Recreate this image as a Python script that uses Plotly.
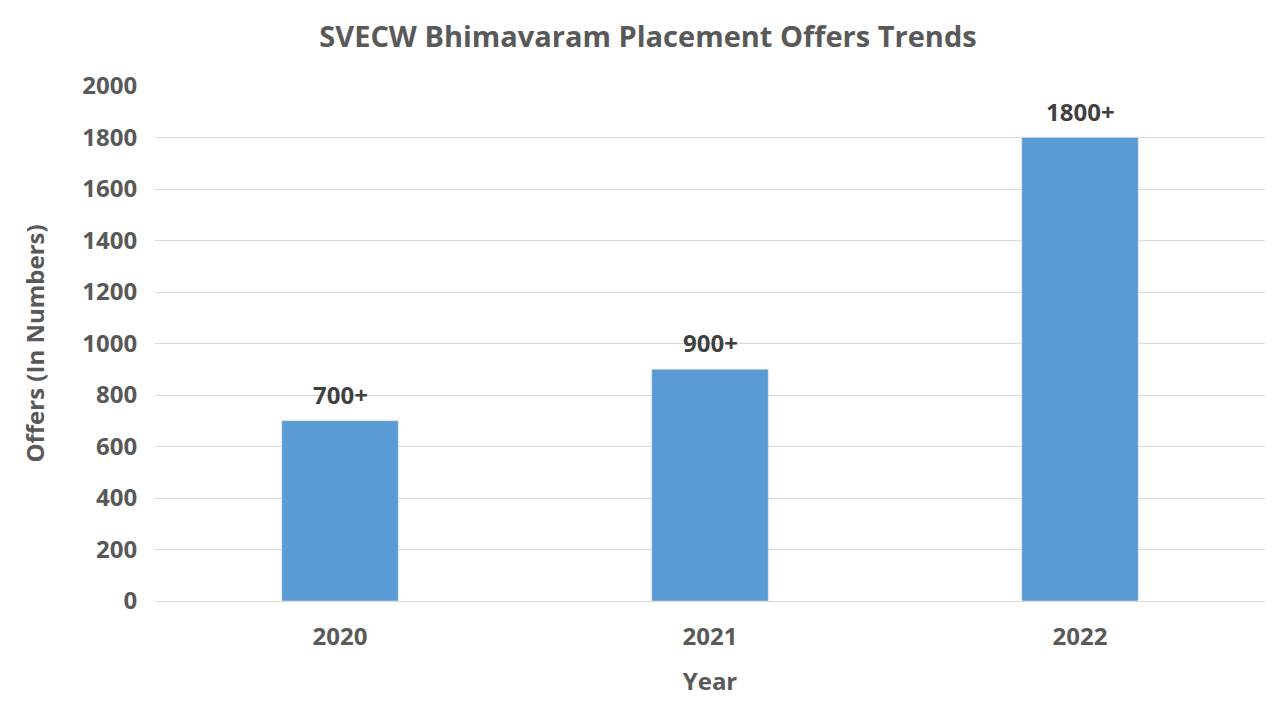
import plotly.graph_objects as go

years = ["2020", "2021", "2022"]
offers = [700, 900, 1800]
labels = ["700+", "900+", "1800+"]

fig = go.Figure(go.Bar(
    x=years, y=offers, marker_color="#5b9bd5", width=0.315,
))
for i, (v, lb) in enumerate(zip(offers, labels)):
    fig.add_annotation(x=i, y=v, text=f"<b>{lb}</b>", showarrow=False, yanchor="bottom",
                       yshift=8, font=dict(size=24, color="#404040", family="Open Sans"))
font = dict(family="Open Sans", color="#595959")
fig.update_layout(
    width=1280, height=720, paper_bgcolor="white", plot_bgcolor="white",
    margin=dict(l=147, r=23, t=78, b=127),
    showlegend=False, font=font,
    title=dict(text="<b>SVECW Bhimavaram Placement Offers Trends</b>", x=0.5, xanchor="center",
               y=0.96, yanchor="middle", font=dict(size=29, family="Open Sans", color="#595959")),
    xaxis=dict(type="category",
               title=dict(text="<b>Year</b>", font=dict(size=24), standoff=22),
               tickfont=dict(size=24), showline=True, linecolor="#d9d9d9", ticks="outside",
               ticklen=14, tickcolor="rgba(0,0,0,0)",
               tickprefix="<b>", ticksuffix="</b>"),
    yaxis=dict(title=dict(text="<b>Offers (In Numbers)</b>", font=dict(size=24), standoff=30),
               range=[0, 2000], dtick=200, tickfont=dict(size=24), gridcolor="#d9d9d9",
               ticks="outside", ticklen=12, tickcolor="rgba(0,0,0,0)",
               tickprefix="<b>", ticksuffix="</b>", zeroline=False),
)
fig.write_html("out.html")
